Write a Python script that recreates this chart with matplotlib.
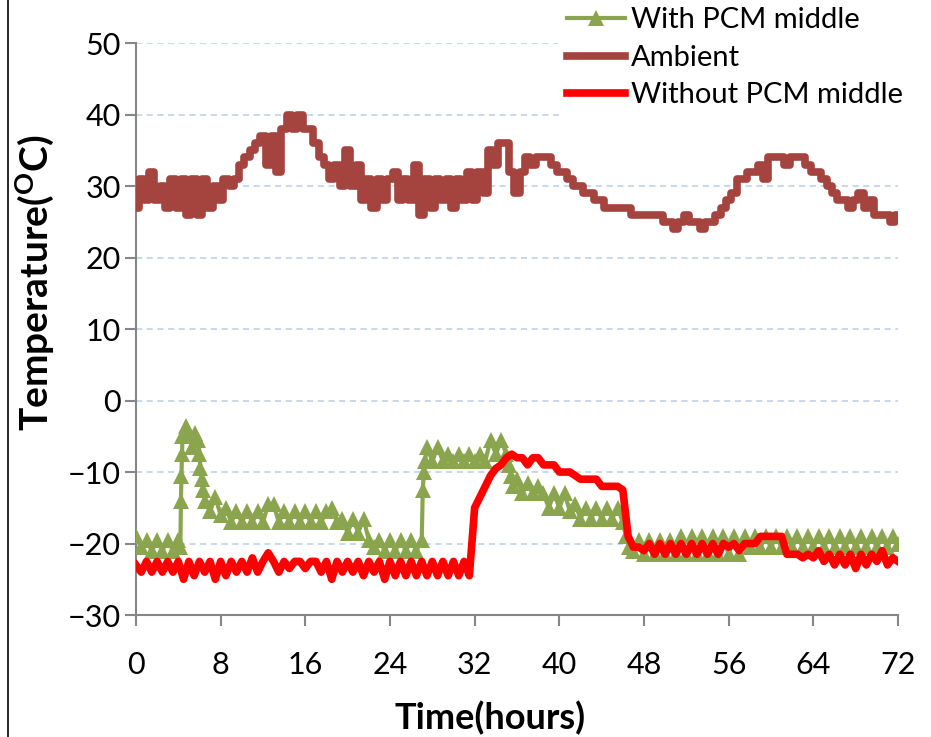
import numpy as np
import matplotlib
matplotlib.use("Agg")
import matplotlib.pyplot as plt
from matplotlib.lines import Line2D

plt.rcParams['font.family'] = ['Lato', 'DejaVu Sans']
plt.rcParams['mathtext.fontset'] = 'custom'
plt.rcParams['mathtext.rm'] = 'Lato:bold'
plt.rcParams['mathtext.bf'] = 'Lato:bold'

# 采样时间 (每半小时一个点)
hours = np.arange(0, 72.5, 0.5)

ambient = [27, 31, 28, 32, 28, 30, 27, 31, 27, 31,
           26, 31, 26, 31, 27, 30, 28, 31, 30, 31,
           33, 34, 35, 36, 37, 33, 37, 32, 38, 40,
           38, 40, 38, 38, 36, 34, 33, 31, 33, 30,
           35, 30, 33, 28, 31, 27, 31, 28, 31, 32,
           28, 31, 28, 33, 26, 31, 27, 31, 28, 31,
           27, 31, 28, 32, 28, 32, 29, 35, 33, 36,
           36, 32, 29, 32, 34, 33, 34, 34, 34, 33,
           32, 32, 31, 30, 30, 29, 29, 28, 28, 27,
           27, 27, 27, 27, 26, 26, 26, 26, 26, 26,
           25, 25, 24, 25, 26, 25, 25, 24, 25, 25,
           26, 27, 28, 29, 31, 31, 32, 32, 33, 31,
           34, 34, 34, 33, 34, 34, 34, 33, 32, 32,
           31, 30, 29, 28, 28, 27, 28, 29, 27, 28,
           26, 26, 26, 25, 26]

without_pcm = [-23, -24, -22.5, -24, -22.5, -24, -22.5, -24, -22.5, -25,
               -22.5, -24.5, -22.5, -24, -22.5, -25, -22.5, -24.5, -22.5, -24,
               -22.5, -24, -22, -24, -22.5, -21.3, -22.5, -24, -22.5, -23.5,
               -22.5, -22.5, -23.5, -22.5, -22.5, -24, -22.5, -25, -22.5, -24,
               -22.5, -24, -22.5, -24.5, -22.5, -24, -22.5, -25, -22.5, -24.5,
               -22.5, -24.5, -22.5, -24.5, -22.5, -24.5, -22.5, -24.5, -22.5, -24.5,
               -22.5, -24.5, -22.5, -24.5, -15, -13.5, -12, -10.5, -9.5, -9,
               -8, -7.5, -8, -8, -9, -8, -8, -9, -9, -9,
               -10, -10, -10, -10.5, -11, -11, -11, -11, -12, -12,
               -12, -12, -12.5, -19, -20.5, -20.5, -21, -20, -21.5, -20,
               -21.5, -20, -21.5, -20, -21.5, -20, -21.5, -20, -21.5, -20,
               -21.5, -20, -20.5, -20, -21, -20, -20, -20, -19, -19,
               -19, -19, -19, -21.5, -21.5, -21.5, -22, -21.5, -22, -21,
               -22.5, -21.5, -23, -21.5, -23, -21.5, -23.5, -21.5, -23, -21.5,
               -22.5, -21, -23, -22, -22.5]

# 有PCM的数据点时间不均匀
with_pcm_hours = [0, 0.5, 1, 1.5, 2, 2.5, 3, 3.5, 4, 4.2,
                  4.25, 4.3, 4.35, 4.4, 4.7, 5.0, 5.3, 5.6, 5.9, 6.0,
                  6.1, 6.2, 6.35, 6.5, 7, 7.5, 8, 8.5, 9, 9.5,
                  10, 10.5, 11, 11.5, 12, 12.5, 13, 13.5, 14, 14.5,
                  15, 15.5, 16, 16.5, 17, 17.5, 18, 18.5, 19, 19.5,
                  20, 20.5, 21, 21.5, 22, 22.5, 23, 23.5, 24, 24.5,
                  25, 25.5, 26, 26.5, 27, 27.1, 27.2, 27.3, 27.5, 28,
                  28.5, 29, 29.5, 30, 30.5, 31, 31.5, 32, 32.5, 33,
                  33.5, 34, 34.5, 35, 35.2, 35.4, 35.6, 36, 36.5, 37,
                  37.5, 38, 38.5, 39, 39.5, 40, 40.5, 41, 41.5, 42,
                  42.5, 43, 43.5, 44, 44.5, 45, 45.5, 46, 46.3, 46.6,
                  47, 47.5, 48, 48.5, 49, 49.5, 50, 50.5, 51, 51.5,
                  52, 52.5, 53, 53.5, 54, 54.5, 55, 55.5, 56, 56.5,
                  57, 57.5, 58, 58.5, 59, 59.5, 60, 60.5, 61, 61.5,
                  62, 62.5, 63, 63.5, 64, 64.5, 65, 65.5, 66, 66.5,
                  67, 67.5, 68, 68.5, 69, 69.5, 70, 70.5, 71, 71.5, 72]
with_pcm = [-19, -20.5, -19.5, -21, -19.5, -21, -19.5, -21, -19.5, -20.5,
            -14, -10.5, -7.5, -5, -3.5, -4.5, -6.5, -4.5, -5.5, -7.5,
            -9.5, -11, -12.5, -14, -15.5, -13.5, -16, -15, -17, -15.5,
            -17, -15.5, -17, -15.5, -17, -14.5, -14.5, -17, -15.5, -17,
            -15.5, -17, -15.5, -17, -15.5, -17, -15.5, -15, -17, -16.5,
            -18.5, -16.5, -18.5, -16.5, -19.5, -20.5, -19.5, -21, -19.5, -21,
            -19.5, -21, -19.5, -21, -19.5, -12.5, -10, -8.5, -6.5, -8.5,
            -6.5, -8.5, -7.5, -8.5, -7.5, -8.5, -7.5, -8.5, -7.5, -8.5,
            -5.5, -7.5, -5.5, -7.5, -9, -10.5, -12, -11, -13, -11.5,
            -13, -12, -13, -15, -13, -15, -13, -15.5, -14.5, -16.5,
            -15, -16.5, -15, -16.5, -15, -16.5, -15, -17, -19, -20.5,
            -21, -19.5, -21.5, -19.5, -21.5, -19.5, -21.5, -19.5, -21.5, -19,
            -21.5, -19, -21.5, -19, -21.5, -19, -21.5, -19, -21.5, -19,
            -21.5, -19, -20.5, -19, -20.5, -19, -20.5, -19, -20.5, -19,
            -20.5, -19, -20.5, -19, -20.5, -19, -20.5, -19, -20.5, -19,
            -20.5, -19, -20.5, -19, -20.5, -19, -20.5, -19, -20.5, -19, -20]

x_ticks = [0, 8, 16, 24, 32, 40, 48, 56, 64, 72]
y_ticks = [-30, -20, -10, 0, 10, 20, 30, 40, 50]

fig = plt.figure(figsize=(9.31, 7.37), dpi=100)
ax = fig.add_axes([0.146, 0.1655, 0.8186, 0.776])

ax.plot(with_pcm_hours, with_pcm, color='#8AA54E', lw=3, marker='^',
        markersize=11, markeredgewidth=0, label='With PCM middle', zorder=3)
ax.plot(hours, ambient, color='#A5433F', lw=5.5, drawstyle='steps-mid',
        solid_joinstyle='round', label='Ambient', zorder=3)
ax.plot(hours, without_pcm, color='#FF0000', lw=5.5, solid_joinstyle='round',
        label='Without PCM middle', zorder=4)

ax.set_xlim(0, 72)
ax.set_ylim(-30, 50)
ax.set_xticks(x_ticks)
ax.set_yticks(y_ticks)
ax.yaxis.grid(True, color='#B9CDE5', linestyle=(0, (4, 3)), linewidth=1.1)
ax.set_axisbelow(True)

for s in ['top', 'right']:
    ax.spines[s].set_visible(False)
for s in ['left', 'bottom']:
    ax.spines[s].set_color('#868686')
    ax.spines[s].set_linewidth(1.5)
ax.tick_params(axis='both', direction='out', length=8, width=1.5,
               color='#868686', labelsize=22)
ax.tick_params(axis='x', pad=18)
ax.tick_params(axis='y', pad=3)

ax.set_xlabel('Time(hours)', fontsize=26, fontweight='bold')
ax.set_ylabel(r'Temperature($\mathregular{^{O}}$C)', fontsize=28,
              fontweight='bold')
ax.xaxis.set_label_coords(0.465, -0.15)
ax.yaxis.set_label_coords(-0.105, 0.58)

leg = fig.legend(loc='upper left', bbox_to_anchor=(0.584, 1.022), fontsize=21,
                 frameon=True, facecolor='white', edgecolor='none',
                 framealpha=1, handlelength=2.0, handletextpad=0.2,
                 labelspacing=0.4, borderpad=0.3)

# 左侧边框
fig.add_artist(Line2D([0.009, 0.009], [0, 1], transform=fig.transFigure,
                      color='black', lw=1.2))

fig.savefig('out.png', dpi=100)
